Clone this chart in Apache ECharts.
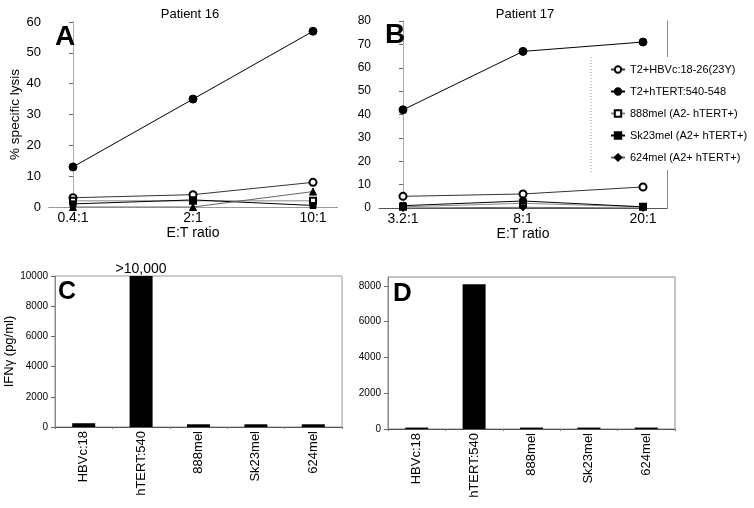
<!DOCTYPE html>
<html>
<head>
<meta charset="utf-8">
<script src="https://cdn.jsdelivr.net/npm/echarts@6/dist/echarts.min.js"></script>
<style>html,body{margin:0;padding:0;background:#fff}#c{width:754px;height:508px}</style>
</head>
<body>
<div id="c"></div>
<script>
// ---- data ----
const catsA = ['0.4:1', '2:1', '10:1'];
const catsB = ['3.2:1', '8:1', '20:1'];
const seriesNames = ['T2+HBVc:18-26(23Y)', 'T2+hTERT:540-548', '888mel (A2- hTERT+)', 'Sk23mel (A2+ hTERT+)', '624mel (A2+ hTERT+)'];
const aHBVc = [3, 4, 8];
const aHTERT = [13, 35, 57];
const a888 = [2, 2, 2];
const aSk23 = [1, 2.3, 0.5];
const a624 = [0, 0, 5];
const bHBVc = [5, 6, 9];
const bHTERT = [42, 67, 71];
const b888 = [0.5, 2, 0.5];
const bSk23 = [1, 3, 0.5];
const b624 = [0, 0.3, 0];
const barCats = ['HBVc:18', 'hTERT:540', '888mel', 'Sk23mel', '624mel'];
const cIFN = [250, 10000, 180, 180, 180];
const dIFN = [80, 8100, 80, 80, 80];
const cBarLabels = ['', '>10,000', '', '', ''];
const dTicks = [0, 2000, 4000, 6000, 8000];

// ---- chart ----
const FF = 'Liberation Sans, Arial, sans-serif';
const chart = echarts.init(document.getElementById('c'));
const xy = arr => arr.map((v, i) => [i, v]);
const symA = ['emptyCircle', 'circle', 'emptyRect', 'rect', 'triangle'];
const symB = ['emptyCircle', 'circle', 'emptyRect', 'rect', 'diamond'];
const lineCol = ['#333', '#000', '#888', '#000', '#666'];
const symSize = [7, 8, 6, 6, 7];
const dataA = [aHBVc, aHTERT, a888, aSk23, a624];
const dataB = [bHBVc, bHTERT, b888, bSk23, b624];

function lineSeries(data, syms, xi, yi) {
  return data.map((d, k) => ({
    type: 'line', name: seriesNames[k], xAxisIndex: xi, yAxisIndex: yi,
    data: xy(d), symbol: syms[k], symbolSize: symSize[k],
    itemStyle: { color: '#000', borderColor: '#000', borderWidth: 1 },
    lineStyle: { color: lineCol[k], width: 1 },
    z: k === 1 ? 3 : 2
  }));
}

const hideAll = { axisTick: { show: false }, axisLabel: { show: false }, splitLine: { show: false } };
const plain = v => String(v);

const option = {
  animation: false,
  textStyle: { fontFamily: FF },
  title: [
    { text: 'Patient 16', left: 190, top: 8, textAlign: 'center', padding: 0, textStyle: { fontSize: 13, fontWeight: 'normal', color: '#000', fontFamily: FF } },
    { text: 'Patient 17', left: 525, top: 8, textAlign: 'center', padding: 0, textStyle: { fontSize: 13, fontWeight: 'normal', color: '#000', fontFamily: FF } },
    { text: 'A', left: 55, top: 23, padding: 0, textStyle: { fontSize: 28, fontWeight: 'bold', color: '#000', fontFamily: FF } },
    { text: 'B', left: 385, top: 21, padding: 0, textStyle: { fontSize: 28, fontWeight: 'bold', color: '#000', fontFamily: FF } },
    { text: 'C', left: 58, top: 280, padding: 0, textStyle: { fontSize: 25, fontWeight: 'bold', color: '#000', fontFamily: FF } },
    { text: 'D', left: 393, top: 281, padding: 0, textStyle: { fontSize: 26, fontWeight: 'bold', color: '#000', fontFamily: FF } }
  ],
  legend: {
    left: 591, top: 57, orient: 'vertical', backgroundColor: '#fff', padding: [7, 4, 7, 19],
    itemWidth: 14, itemHeight: 8, itemGap: 11,
    textStyle: { fontSize: 11, color: '#000', fontFamily: FF },
    data: seriesNames, z: 10
  },
  graphic: [
    { type: 'line', z: 100, shape: { x1: 591, y1: 57, x2: 591, y2: 174 }, style: { stroke: '#999', lineWidth: 1, lineDash: [1, 2] } }
  ],
  grid: [
    { left: 49, top: 22, width: 288, height: 185 },
    { left: 379, top: 21, width: 288, height: 187 },
    { left: 55, top: 276, width: 287, height: 151, show: true, borderColor: '#999', borderWidth: 1 },
    { left: 388, top: 277, width: 287, height: 152, show: true, borderColor: '#888', borderWidth: 1 }
  ],
  xAxis: [
    { gridIndex: 0, type: 'value', min: -0.2, max: 2.2,
      axisLine: { lineStyle: { color: '#555' } }, axisTick: { show: false }, splitLine: { show: false },
      axisLabel: { customValues: [0, 1, 2], formatter: v => catsA[Math.round(v)], fontSize: 14, color: '#000', margin: 4 },
      name: 'E:T ratio', nameLocation: 'middle', nameGap: 18, nameTextStyle: { fontSize: 14, color: '#000' } },
    { gridIndex: 1, type: 'value', min: -0.2, max: 2.2,
      axisLine: { lineStyle: { color: '#555' } }, axisTick: { show: false }, splitLine: { show: false },
      axisLabel: { customValues: [0, 1, 2], formatter: v => catsB[Math.round(v)], fontSize: 14, color: '#000', margin: 4 },
      name: 'E:T ratio', nameLocation: 'middle', nameGap: 18, nameTextStyle: { fontSize: 14, color: '#000' } },
    { gridIndex: 2, type: 'category', data: barCats, boundaryGap: true,
      axisLine: { lineStyle: { color: '#555' } }, axisTick: { show: true, length: 2, lineStyle: { color: '#777' } },
      axisLabel: { rotate: 90, fontSize: 13, color: '#000', margin: 4 } },
    { gridIndex: 3, type: 'category', data: barCats, boundaryGap: true,
      axisLine: { lineStyle: { color: '#555' } }, axisTick: { show: true, length: 2, lineStyle: { color: '#777' } },
      axisLabel: { rotate: 90, fontSize: 13, color: '#000', margin: 4 } },
    Object.assign({ gridIndex: 0, type: 'value', position: 'top', min: -0.2, max: 2.2,
      axisLine: { show: true, lineStyle: { color: '#aaa', type: 'dotted' } } }, hideAll)
  ],
  yAxis: [
    { gridIndex: 0, type: 'value', min: 0, max: 60, interval: 10,
      axisLine: { show: true, lineStyle: { color: '#999', type: 'dotted' } },
      axisTick: { show: true, length: 4, lineStyle: { color: '#666' } }, splitLine: { show: false },
      axisLabel: { fontSize: 13, color: '#000', margin: 8 },
      name: '% specific lysis', nameLocation: 'middle', nameGap: 27, nameTextStyle: { fontSize: 13.5, color: '#000' } },
    { gridIndex: 1, type: 'value', min: 0, max: 80, interval: 10,
      axisLine: { show: true, lineStyle: { color: '#999', type: 'dotted' } },
      axisTick: { show: true, length: 4, lineStyle: { color: '#666' } }, splitLine: { show: false },
      axisLabel: { fontSize: 12, color: '#000', margin: 8 } },
    { gridIndex: 2, type: 'value', min: 0, max: 10000, interval: 2000,
      axisLine: { show: true, lineStyle: { color: '#888' } },
      axisTick: { show: true, length: 4, lineStyle: { color: '#666' } }, splitLine: { show: false },
      axisLabel: { fontSize: 10, color: '#000', margin: 7, formatter: plain },
      name: 'IFNγ (pg/ml)', nameLocation: 'middle', nameGap: 33, nameTextStyle: { fontSize: 13, color: '#000' } },
    { gridIndex: 3, type: 'value', min: 0, max: 8500,
      axisLine: { show: true, lineStyle: { color: '#888' } },
      axisTick: { show: true, length: 4, customValues: dTicks, lineStyle: { color: '#666' } }, splitLine: { show: false },
      axisLabel: { fontSize: 10, color: '#000', margin: 7, customValues: dTicks, formatter: plain } },
    Object.assign({ gridIndex: 0, type: 'value', position: 'right', min: 0, max: 60,
      axisLine: { show: true, lineStyle: { color: '#aaa', type: 'dotted' } } }, hideAll),
    Object.assign({ gridIndex: 1, type: 'value', position: 'right', min: 0, max: 80,
      axisLine: { show: true, lineStyle: { color: '#888' } } }, hideAll)
  ],
  series: [].concat(
    lineSeries(dataB, symB, 1, 1),
    lineSeries(dataA, symA, 0, 0),
    [
      { type: 'bar', xAxisIndex: 2, yAxisIndex: 2, barWidth: 23,
        itemStyle: { color: '#000' },
        label: { position: 'top', distance: 0, fontSize: 14, color: '#000', fontFamily: FF },
        data: cIFN.map((v, i) => ({ value: v, label: { show: !!cBarLabels[i], formatter: cBarLabels[i] } })) },
      { type: 'bar', xAxisIndex: 3, yAxisIndex: 3, barWidth: 23,
        itemStyle: { color: '#000' }, data: dIFN }
    ]
  )
};
chart.setOption(option);
</script>
</body>
</html>
